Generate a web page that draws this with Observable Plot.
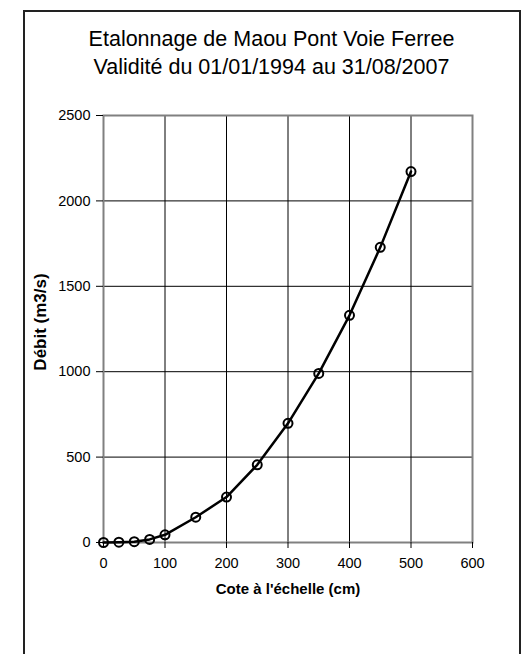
<!DOCTYPE html>
<html>
<head>
<meta charset="utf-8">
<script src="https://cdn.jsdelivr.net/npm/d3@7"></script>
<script src="https://cdn.jsdelivr.net/npm/@observablehq/plot@0.6"></script>
<style>
  html, body { margin: 0; padding: 0; background: #fff; }
  #wrap { position: relative; width: 525px; height: 654px; overflow: hidden; font-family: "Liberation Sans", Arial, sans-serif; }
  #frame { position: absolute; left: 23px; top: 10px; width: 498px; height: 700px; border: 2px solid #222; box-sizing: border-box; }
  #title { position: absolute; left: 23px; width: 497px; top: 25px; text-align: center; font-size: 21.5px; line-height: 28px; color: #000; }
  #chart { position: absolute; left: 0; top: 0; }
</style>
</head>
<body>
<div id="wrap">
  <div id="frame"></div>
  <div id="title">Etalonnage de Maou Pont Voie Ferree<br>Validité du 01/01/1994 au 31/08/2007</div>
  <div id="chart"></div>
</div>
<script>
const cote = [0, 25, 50, 75, 100, 150, 200, 250, 300, 350, 400, 450, 500];
const debit = [0, 2, 5, 18, 45, 148, 266, 455, 698, 990, 1330, 1728, 2172];
const xTicks = [0, 100, 200, 300, 400, 500, 600];
const yTicks = [0, 500, 1000, 1500, 2000, 2500];
const xTitle = "Cote à l'échelle (cm)";
const yTitle = "Débit (m3/s)";

const data = cote.map((c, i) => ({cote: c, debit: debit[i]}));
const font = "'Liberation Sans', Arial, sans-serif";

const chart = Plot.plot({
  width: 525,
  height: 654,
  marginLeft: 103,
  marginRight: 53,
  marginTop: 115,
  marginBottom: 112,
  style: {fontFamily: font, background: "transparent", overflow: "visible"},
  x: {domain: [0, 600]},
  y: {domain: [0, 2500]},
  marks: [
    Plot.gridX(xTicks.slice(1, -1), {stroke: "#000", strokeOpacity: 1, strokeWidth: 1}),
    Plot.gridY(yTicks.slice(1, -1), {stroke: "#000", strokeOpacity: 1, strokeWidth: 1}),
    Plot.frame({stroke: "#808080", strokeWidth: 2}),
    Plot.axisX(xTicks, {tickSize: 6, tickFormat: () => "", stroke: "#000", label: null}),
    Plot.axisY(yTicks, {tickSize: 7, tickFormat: () => "", stroke: "#000", label: null}),
    Plot.text(xTicks, {x: d => d, frameAnchor: "bottom", dy: 25, text: d => String(d), fontSize: 14.5, fontFamily: font, fill: "#000"}),
    Plot.text(yTicks, {y: d => d, frameAnchor: "left", dx: -13, textAnchor: "end", text: d => String(d), fontSize: 14.5, fontFamily: font, fill: "#000"}),
    Plot.text([xTitle], {frameAnchor: "bottom", dy: 51, fontSize: 15, fontWeight: "bold", fontFamily: font, fill: "#000"}),
    Plot.text([yTitle], {frameAnchor: "left", textAnchor: "middle", dx: -63, dy: -7, rotate: -90, fontSize: 17, fontWeight: "bold", fontFamily: font, fill: "#000"}),
    Plot.line(data, {x: "cote", y: "debit", stroke: "#000", strokeWidth: 2.5}),
    Plot.dot(data, {x: "cote", y: "debit", r: 4.5, stroke: "#000", strokeWidth: 2, fill: "none"})
  ]
});
document.getElementById("chart").appendChild(chart);
</script>
</body>
</html>
